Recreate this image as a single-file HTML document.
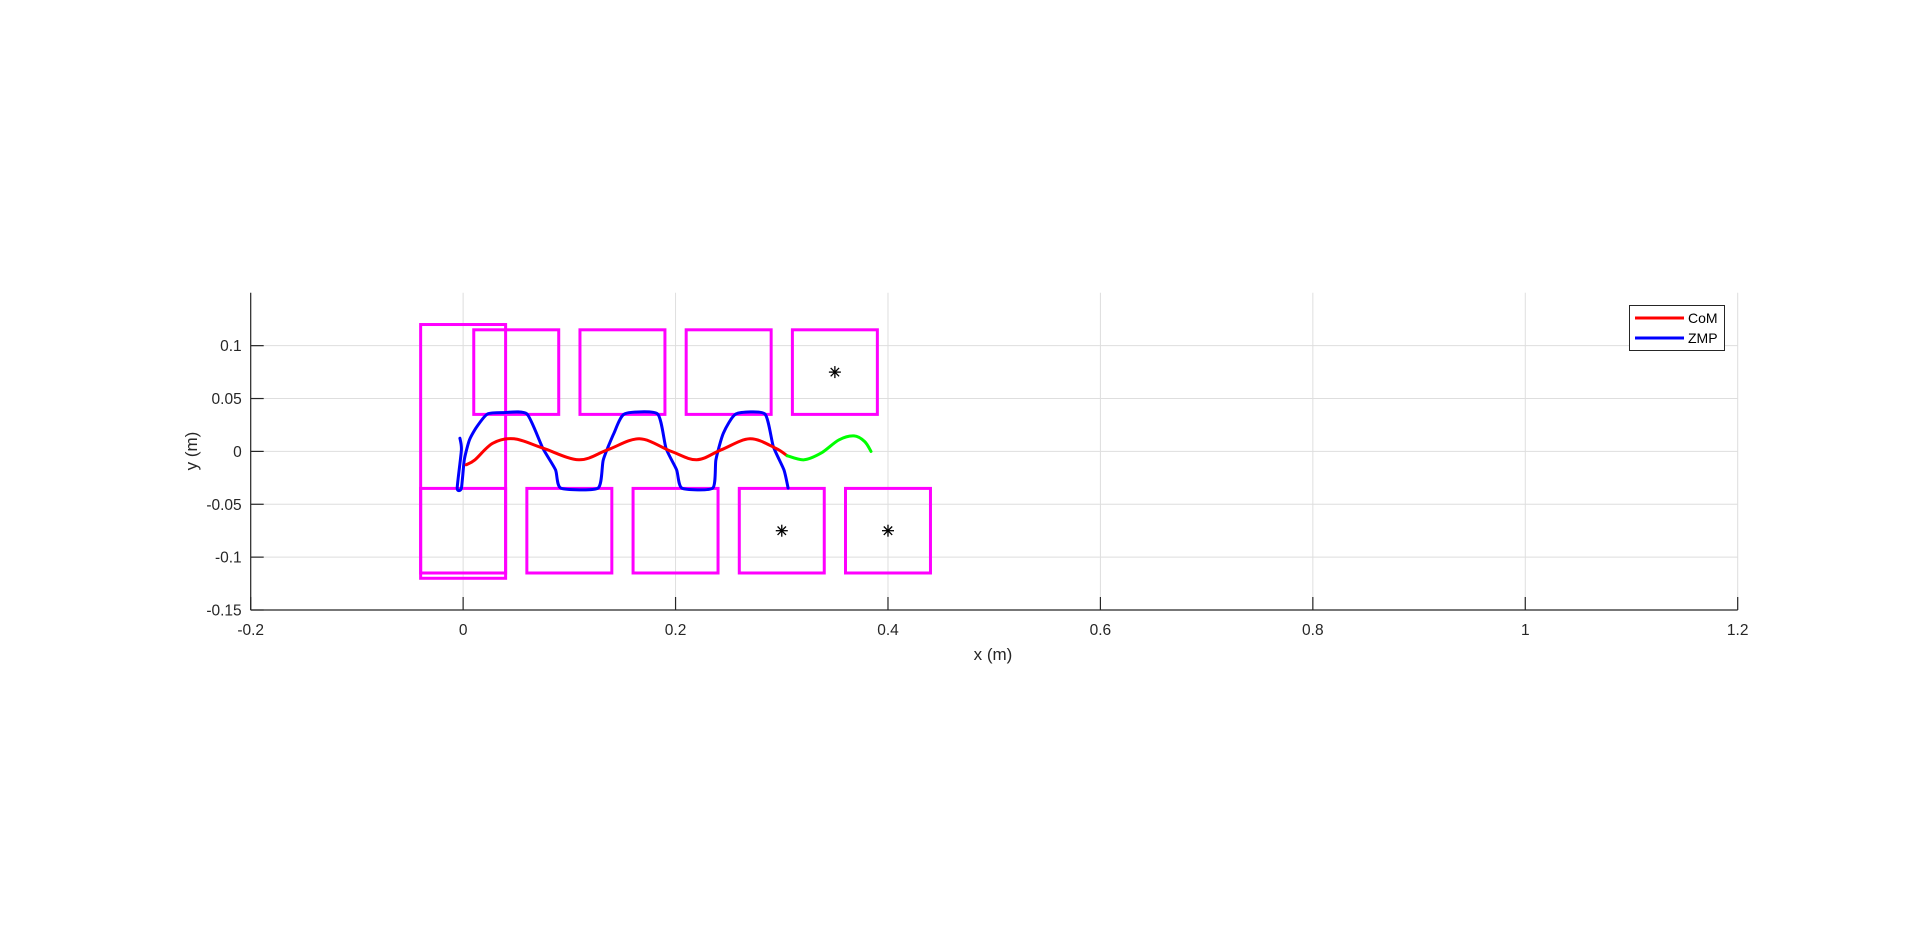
<!DOCTYPE html>
<html><head><meta charset="utf-8"><style>
html,body{margin:0;padding:0;background:#fff;}
svg{display:block;font-family:"Liberation Sans",Arial,sans-serif;}
</style></head><body>
<svg id="chart" width="1920" height="936" viewBox="0 0 1920 936" xmlns="http://www.w3.org/2000/svg"></svg>
<script>
const xTicks=[-0.2,0,0.2,0.4,0.6,0.8,1,1.2];
const xTickLabels=["-0.2","0","0.2","0.4","0.6","0.8","1","1.2"];
const yTicks=[-0.15,-0.1,-0.05,0,0.05,0.1];
const yTickLabels=["-0.15","-0.1","-0.05","0","0.05","0.1"];
const comX=[0.0028,0.0112,0.028,0.048,0.075,0.109,0.136,0.166,0.196,0.220,0.243,0.270,0.294,0.305];
const comY=[-0.0127,-0.0079,0.0078,0.0119,0.0031,-0.0079,0.0015,0.0119,0,-0.0079,0.0015,0.0119,0.0031,-0.0041];
const predX=[0.305,0.321,0.337,0.354,0.368,0.378,0.384];
const predY=[-0.0041,-0.0079,-0.0016,0.011,0.0147,0.0094,0];
const zmpX=[-0.003,-0.0016,-0.0056,-0.0016,0.0011,0.006,0.013,0.023,0.038,0.060,0.075,0.087,0.092,0.127,0.132,0.142,0.152,0.183,0.191,0.201,0.206,0.235,0.238,0.245,0.257,0.284,0.292,0.302,0.306];
const zmpY=[0.0125,0.0015,-0.0347,-0.0347,-0.0079,0.011,0.0235,0.0355,0.0367,0.0355,0.003,-0.0174,-0.0347,-0.0347,-0.0079,0.0173,0.0355,0.0355,0.003,-0.0174,-0.0347,-0.0347,-0.0079,0.0173,0.0355,0.0355,0.0046,-0.0174,-0.0347];
const footX0=[-0.04,-0.04,0.06,0.16,0.26,0.36,0.01,0.11,0.21,0.31];
const footX1=[0.04,0.04,0.14,0.24,0.34,0.44,0.09,0.19,0.29,0.39];
const footY0=[-0.12,-0.115,-0.115,-0.115,-0.115,-0.115,0.035,0.035,0.035,0.035];
const footY1=[0.12,-0.035,-0.035,-0.035,-0.035,-0.035,0.115,0.115,0.115,0.115];
const starX=[0.3,0.4,0.35];
const starY=[-0.075,-0.075,0.075];

const L=250.7,R=1737.7,T=292.8,B=610;
const sx=v=>L+(v+0.2)/1.4*(R-L);
const sy=v=>B-(v+0.15)/0.3*(B-T);
const NS="http://www.w3.org/2000/svg";
const svg=document.getElementById('chart');
function mk(tag,attrs,parent){const e=document.createElementNS(NS,tag);for(const k in attrs)e.setAttribute(k,attrs[k]);(parent||svg).appendChild(e);return e;}

const grid=mk('g',{});


xTicks.forEach(v=>{mk('line',{x1:sx(v),x2:sx(v),y1:T,y2:B,stroke:'#dedede','stroke-width':1},grid);});
yTicks.forEach(v=>{mk('line',{x1:L,x2:R,y1:sy(v),y2:sy(v),stroke:'#dedede','stroke-width':1},grid);});

const feet=mk('g',{});


footX0.forEach((x0,i)=>{
  const r=mk('rect',{x:sx(x0),y:sy(footY1[i]),width:sx(footX1[i])-sx(x0),height:sy(footY0[i])-sy(footY1[i]),fill:'none',stroke:'#ff00ff','stroke-width':3},feet);
  
  
});

function path(xs,ys,color,name,smooth){
  const P=xs.map((x,i)=>[sx(x),sy(ys[i])]);
  let d='M'+P[0][0].toFixed(1)+','+P[0][1].toFixed(1);
  for(let i=0;i<P.length-1;i++){
    const p0=P[Math.max(0,i-1)],p1=P[i],p2=P[i+1],p3=P[Math.min(P.length-1,i+2)];
    const k=smooth/6;
    const c1=[p1[0]+(p2[0]-p0[0])*k,p1[1]+(p2[1]-p0[1])*k];
    const c2=[p2[0]-(p3[0]-p1[0])*k,p2[1]-(p3[1]-p1[1])*k];
    d+=' C'+c1[0].toFixed(1)+','+c1[1].toFixed(1)+' '+c2[0].toFixed(1)+','+c2[1].toFixed(1)+' '+p2[0].toFixed(1)+','+p2[1].toFixed(1);
  }
  const p=mk('path',{d:d,fill:'none',stroke:color,'stroke-width':3,'stroke-linejoin':'round','stroke-linecap':'round'});
  
  
}
path(zmpX,zmpY,'#0000ff','zmp-line',0.6);
path(comX,comY,'#ff0000','com-line',1);
path(predX,predY,'#00ff00','com-preview-line',1);

starX.forEach((x,i)=>{
  const g=mk('g',{stroke:'#000','stroke-width':1.3});
  
  
  const cx=sx(x),cy=sy(starY[i]),r=6;
  mk('line',{x1:cx-r,x2:cx+r,y1:cy,y2:cy},g);
  mk('line',{x1:cx,x2:cx,y1:cy-r,y2:cy+r},g);
  mk('line',{x1:cx-r*0.7,x2:cx+r*0.7,y1:cy-r*0.7,y2:cy+r*0.7},g);
  mk('line',{x1:cx-r*0.7,x2:cx+r*0.7,y1:cy+r*0.7,y2:cy-r*0.7},g);
});

const ax=mk('g',{});


mk('line',{x1:L,x2:R,y1:B,y2:B,stroke:'#262626','stroke-width':1.2},ax);
mk('line',{x1:L,x2:L,y1:T,y2:B,stroke:'#262626','stroke-width':1.2},ax);
xTicks.forEach((v,i)=>{
  mk('line',{x1:sx(v),x2:sx(v),y1:B,y2:B-13,stroke:'#262626','stroke-width':1.2},ax);
  const t=mk('text',{x:sx(v),y:B+25,'text-anchor':'middle','font-size':15.5,fill:'#262626'},ax);
  t.textContent=xTickLabels[i];
  
  
});
yTicks.forEach((v,i)=>{
  mk('line',{x1:L,x2:L+13,y1:sy(v),y2:sy(v),stroke:'#262626','stroke-width':1.2},ax);
  const t=mk('text',{x:L-9,y:sy(v)+5.5,'text-anchor':'end','font-size':15.5,fill:'#262626'},ax);
  t.textContent=yTickLabels[i];
  
  
});
const xl=mk('text',{x:993,y:660,'text-anchor':'middle','font-size':17,fill:'#262626'});
xl.textContent='x (m)';


const yl=mk('text',{x:197,y:451,'text-anchor':'middle','font-size':17,fill:'#262626',transform:'rotate(-90 197 451)'});
yl.textContent='y (m)';



const lg=mk('g',{});


mk('rect',{x:1629.5,y:305.5,width:95,height:45,fill:'#fff',stroke:'#262626','stroke-width':1},lg);
mk('line',{x1:1635,x2:1684,y1:318,y2:318,stroke:'#ff0000','stroke-width':3},lg);
mk('line',{x1:1635,x2:1684,y1:338,y2:338,stroke:'#0000ff','stroke-width':3},lg);
const l1=mk('text',{x:1688,y:323,'font-size':14,fill:'#000'},lg);l1.textContent='CoM';


const l2=mk('text',{x:1688,y:343,'font-size':14,fill:'#000'},lg);l2.textContent='ZMP';


</script>
</body></html>
